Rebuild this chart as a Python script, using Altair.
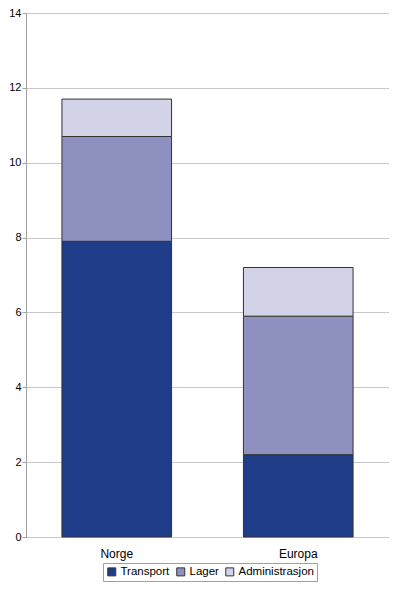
import altair as alt
import pandas as pd

categories = ["Norge", "Europa"]
series = ["Transport", "Lager", "Administrasjon"]
transport = [7.9, 2.2]
lager = [2.8, 3.7]
administrasjon = [1.0, 1.3]
colors = ["#1F3C88", "#8E90C0", "#D3D3E8"]
y_ticks = [0, 2, 4, 6, 8, 10, 12, 14]

rows = []
for i, c in enumerate(categories):
    for j, (s, vals) in enumerate(zip(series, [transport, lager, administrasjon])):
        rows.append({"kategori": c, "serie": s, "verdi": vals[i], "rekkefolge": j})
df = pd.DataFrame(rows)

font = "Liberation Sans"

chart = alt.Chart(df).mark_bar(stroke="#333333", strokeWidth=1).encode(
    x=alt.X("kategori:N", sort=categories, title=None,
            scale=alt.Scale(paddingInner=0.396, paddingOuter=0.198),
            axis=alt.Axis(labelAngle=0, ticks=False, domain=False, grid=False,
                          labelPadding=11, labelFont=font, labelFontSize=12,
                          labelColor="#000000")),
    y=alt.Y("verdi:Q", stack="zero", title=None,
            scale=alt.Scale(domain=[0, 14], nice=False),
            axis=alt.Axis(values=y_ticks, grid=True, gridColor="#C8C8C8",
                          domainColor="#A0A0A0", tickColor="#A0A0A0", tickSize=4,
                          labelFont=font, labelFontSize=11, labelColor="#000000",
                          labelPadding=1)),
    color=alt.Color("serie:N", sort=series,
                    scale=alt.Scale(domain=series, range=colors),
                    legend=alt.Legend(orient="none", legendX=77, legendY=550,
                                      direction="horizontal", title=None,
                                      symbolType="square", symbolSize=64,
                                      symbolStrokeColor="#333333", symbolStrokeWidth=1,
                                      labelFont=font, labelFontSize=11.5, labelColor="#000000",
                                      labelOffset=3, columnPadding=4,
                                      strokeColor="#A0A0A0", padding=3)),
    order=alt.Order("rekkefolge:Q", sort="ascending"),
).properties(
    width=363, height=524,
    autosize=alt.AutoSizeParams(type="none"),
    padding={"left": 18, "top": 5, "right": 0, "bottom": 45},
).configure_view(stroke=None).configure_axisY(domainColor="#A0A0A0")

chart.save("out.html", embed_options={"renderer": "svg", "actions": False})
